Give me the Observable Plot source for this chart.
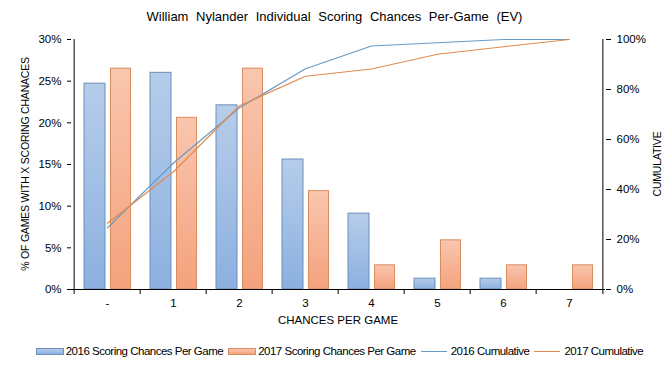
<!DOCTYPE html>
<html><head><meta charset="utf-8">
<script src="https://cdn.jsdelivr.net/npm/d3@7"></script>
<script src="https://cdn.jsdelivr.net/npm/@observablehq/plot@0.6"></script>
<style>
body{margin:0;background:#fff;font-family:"Liberation Sans",Arial,sans-serif;color:#000;}
#wrap{position:relative;width:669px;height:371px;overflow:hidden;}
#wrap svg{position:absolute;left:0;top:0;}
#title{position:absolute;top:9px;left:0;width:669px;text-align:center;font-size:13px;word-spacing:4px;}
.ytitle{position:absolute;font-size:10.5px;letter-spacing:-0.2px;white-space:nowrap;transform-origin:0 0;}
#xtitle{position:absolute;top:314px;left:0;width:676px;text-align:center;font-size:11.5px;}
#legend{position:absolute;top:345px;left:0;width:684px;display:flex;justify-content:center;align-items:center;font-size:11.5px;letter-spacing:-0.5px;}
.item{display:flex;align-items:center;margin-right:5px;}
.patch{width:28px;height:7px;margin-right:2px;box-sizing:border-box;}
.ln{width:26px;height:0;margin-right:4px;border-top:1.3px solid;}
</style></head>
<body>
<div id="wrap">
  <div id="title">William Nylander Individual Scoring Chances Per-Game (EV)</div>
  <div id="xtitle">CHANCES PER GAME</div>
  <div class="ytitle" id="yl">% OF GAMES WITH X SCORING CHANACES</div>
  <div class="ytitle" id="yr">CUMULATIVE</div>
  <div id="legend"></div>
</div>
<script>
const categories = ["-", "1", "2", "3", "4", "5", "6", "7"];
const pct2016 = [24.7, 26.0, 22.1, 15.6, 9.1, 1.3, 1.3, 0];
const pct2017 = [26.5, 20.6, 26.5, 11.8, 2.9, 5.9, 2.9, 2.9];
const cum2016 = [24.7, 50.6, 72.7, 88.3, 97.4, 98.7, 100, 100];
const cum2017 = [26.5, 47.1, 73.5, 85.3, 88.2, 94.1, 97.1, 100];
const leftTicks = [0, 5, 10, 15, 20, 25, 30];
const rightTicks = [0, 20, 40, 60, 80, 100];
const seriesNames = ["2016 Scoring Chances Per Game", "2017 Scoring Chances Per Game", "2016 Cumulative", "2017 Cumulative"];

const leftMax = 30, rightMax = 100, ratio = leftMax / rightMax;
const rows16 = categories.map((c, i) => ({cat: c, v: pct2016[i], cum: cum2016[i]}));
const rows17 = categories.map((c, i) => ({cat: c, v: pct2017[i], cum: cum2017[i]}));

const W = 669, H = 371, mL = 71, mR = 64, mT = 39, mB = 82;
const bw = (W - mL - mR) / categories.length;
const tickLen = 5 * leftMax / (H - mT - mB);

const chart = Plot.plot({
  width: W, height: H, marginLeft: mL, marginRight: mR, marginTop: mT, marginBottom: mB,
  style: {fontFamily: "Liberation Sans, Arial, sans-serif", fontSize: "11.5px", color: "#000", background: "transparent", overflow: "visible"},
  x: {type: "band", domain: categories, padding: 0},
  y: {domain: [0, leftMax]},
  marks: [
    Plot.barY(rows16, {x: "cat", y: "v", fill: "url(#g16)", stroke: "#6a8fba", strokeWidth: 1, insetLeft: 10, insetRight: 35}),
    Plot.barY(rows17, {x: "cat", y: "v", fill: "url(#g17)", stroke: "#d88c60", strokeWidth: 1, insetLeft: 36.5, insetRight: 9.5}),
    Plot.lineY(rows16, {x: "cat", y: d => d.cum * ratio, stroke: "#6a9ac4", strokeWidth: 1.2}),
    Plot.lineY(rows17, {x: "cat", y: d => d.cum * ratio, stroke: "#e08c52", strokeWidth: 1.2}),
    Plot.ruleY([0], {stroke: "#000"}),
    Plot.ruleX([categories[0]], {dx: -bw / 2, y1: -tickLen, y2: leftMax, stroke: "#000"}),
    Plot.ruleX([categories[categories.length - 1]], {dx: bw / 2, y1: -tickLen, y2: leftMax, stroke: "#000"}),
    Plot.ruleX(categories.slice(1), {dx: -bw / 2, y1: -tickLen, y2: 0, stroke: "#000"}),
    Plot.axisX({tickSize: 0, tickPadding: 9, label: null}),
    Plot.axisY({ticks: leftTicks, tickFormat: d => d + "%", tickSize: 4, tickPadding: 6, label: null}),
    Plot.axisY({anchor: "right", ticks: rightTicks.map(t => t * ratio), tickFormat: d => Math.round(d / ratio) + "%", tickSize: 5, tickPadding: 6, label: null})
  ]
});

const svg = d3.select(chart);
const defs = svg.insert("defs", ":first-child");
function grad(id, top, bottom) {
  const g = defs.append("linearGradient").attr("id", id).attr("x1", 0).attr("y1", 0).attr("x2", 0).attr("y2", 1);
  g.append("stop").attr("offset", "0%").attr("stop-color", top);
  g.append("stop").attr("offset", "100%").attr("stop-color", bottom);
}
grad("g16", "#b6cdea", "#8cb0e0");
grad("g17", "#f9c6ae", "#f4a27d");
document.getElementById("wrap").appendChild(chart);

// axis titles
const yl = document.getElementById("yl");
const yr = document.getElementById("yr");
const midY = mT + (H - mT - mB) / 2;
yl.style.left = "19px"; yl.style.top = "0px";
yr.style.left = "651px"; yr.style.top = "0px";
const lw = yl.getBoundingClientRect().width;
yl.style.transform = `translate(0px, ${midY + lw / 2}px) rotate(-90deg)`;
const rw = yr.getBoundingClientRect().width;
yr.style.transform = `translate(0px, ${midY + rw / 2}px) rotate(-90deg)`;

// legend
const legend = d3.select("#legend");
const kinds = [
  {type: "patch", fill: "linear-gradient(#b6cdea,#8cb0e0)", border: "#6a8fba"},
  {type: "patch", fill: "linear-gradient(#f9c6ae,#f4a27d)", border: "#d88c60"},
  {type: "line", color: "#6a9ac4"},
  {type: "line", color: "#e08c52"}
];
seriesNames.forEach((name, i) => {
  const k = kinds[i];
  const it = legend.append("div").attr("class", "item");
  if (k.type === "patch") it.append("div").attr("class", "patch").style("background", k.fill).style("border", `1px solid ${k.border}`);
  else it.append("div").attr("class", "ln").style("border-top-color", k.color);
  it.append("span").text(name);
});
</script>
</body></html>
